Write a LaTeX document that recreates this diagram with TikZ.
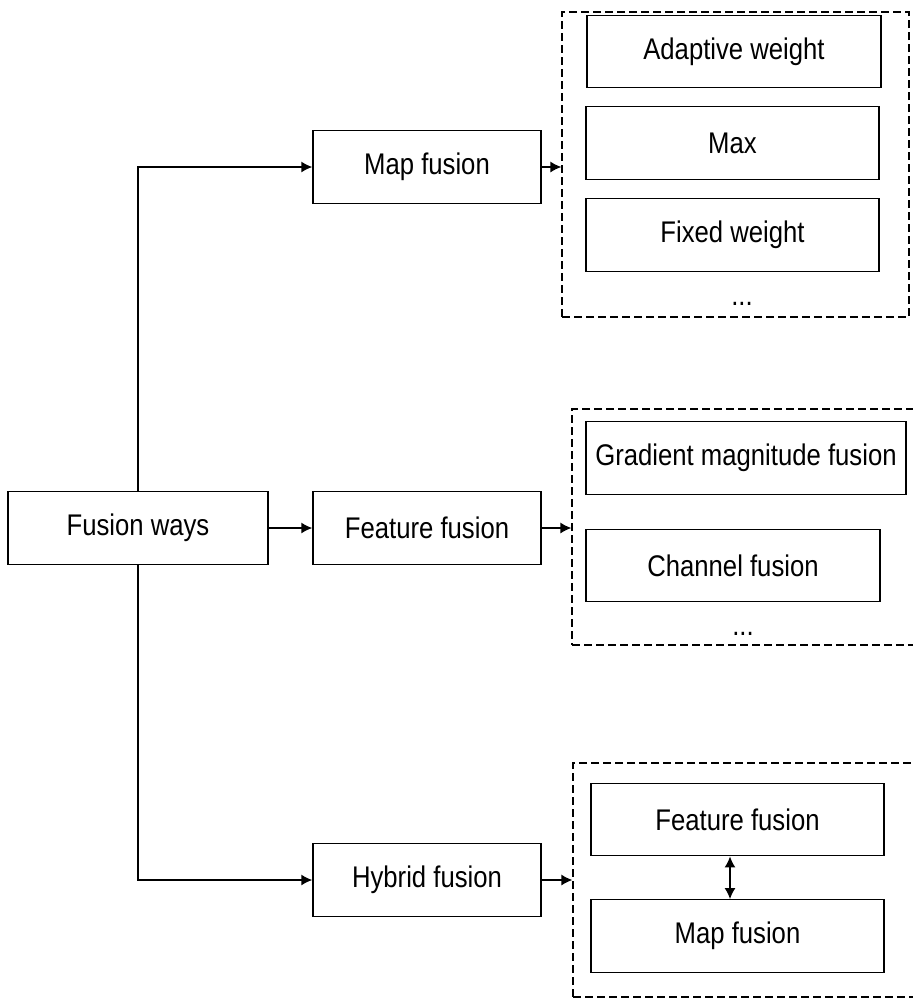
\documentclass[tikz,border=0pt]{standalone}
\usepackage{fontspec}
\setmainfont{Liberation Sans}[FakeStretch=0.86]
\usetikzlibrary{arrows.meta}

\begin{document}
\begin{tikzpicture}[x=0.02cm, y=-0.02cm,
        box/.style={draw, line width=0.8pt, minimum height=1.45cm, inner sep=0pt,
            font=\fontsize{17}{20}\selectfont},
        group/.style={draw, dash pattern=on 0.16cm off 0.08cm, line width=0.7pt, inner sep=0pt},
        dots/.style={inner sep=0pt, font=\fontsize{17}{20}\selectfont}]
    \useasboundingbox (0,0) rectangle (913,998);

    \node[box, minimum width=5.2cm] (ways) at (138,528) {Fusion ways};

    \node[box, minimum width=4.56cm] (mapf) at (427,167) {Map fusion};
    \node[box, minimum width=4.56cm] (featf) at (427,528) {Feature fusion};
    \node[box, minimum width=4.56cm] (hybf) at (427,880) {Hybrid fusion};

    % dashed groups
    \node[group, minimum width=6.94cm, minimum height=6.1cm] (mapgrp) at (735.5,164.5) {};
    \node[group, minimum width=7.06cm, minimum height=4.72cm] (featgrp) at (748.5,527) {};
    \node[group, minimum width=7.04cm, minimum height=4.68cm] (hybgrp) at (749,880) {};

    \node[box, minimum width=5.88cm] (adapt) at (734,51.5) {Adaptive weight};
    \node[box, minimum width=5.86cm] (maxw) at (732.5,143) {Max};
    \node[box, minimum width=5.86cm] (fixed) at (732.5,235) {Fixed weight};
    \node[dots] (dotsa) at (742,304) {...};

    \node[box, minimum width=6.4cm] (grad) at (746,458) {Gradient magnitude fusion};
    \node[box, minimum width=5.88cm] (chan) at (733,565.5) {Channel fusion};
    \node[dots] (dotsb) at (743,634) {...};

    \node[box, minimum width=5.86cm] (hfeat) at (737.5,819.5) {Feature fusion};
    \node[box, minimum width=5.86cm] (hmap) at (737.5,936) {Map fusion};

    \draw[->,>={Latex[length=0.22cm,width=0.22cm]},line width=0.8pt] (ways.north) |- (mapf.west);
    \draw[->,>={Latex[length=0.22cm,width=0.22cm]},line width=0.8pt] (ways.east) -- (featf.west);
    \draw[->,>={Latex[length=0.22cm,width=0.22cm]},line width=0.8pt] (ways.south) |- (hybf.west);

    \draw[->,>={Latex[length=0.22cm,width=0.22cm]},line width=0.8pt] (mapf.east) -- (mapf.east -| mapgrp.west);
    \draw[->,>={Latex[length=0.22cm,width=0.22cm]},line width=0.8pt] (featf.east) -- (featf.east -| featgrp.west);
    \draw[->,>={Latex[length=0.22cm,width=0.22cm]},line width=0.8pt] (hybf.east) -- (hybf.east -| hybgrp.west);

    \draw[<->,>={Latex[length=0.22cm,width=0.22cm]},line width=0.8pt] ([xshift=-0.15cm]hfeat.south) -- ([xshift=-0.15cm]hmap.north);
\end{tikzpicture}
\end{document}
